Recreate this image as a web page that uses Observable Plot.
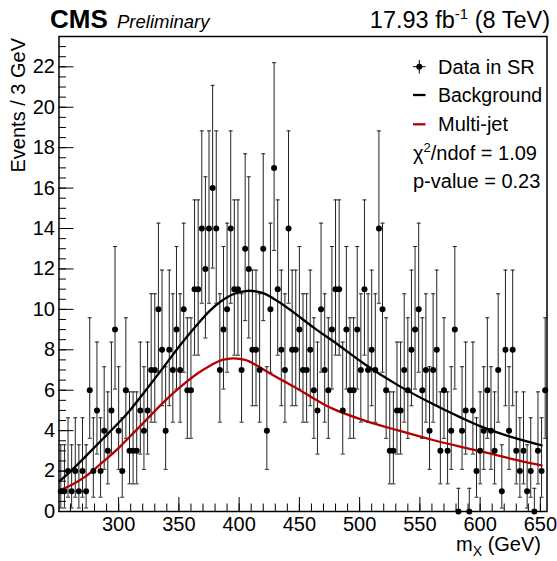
<!DOCTYPE html>
<html><head><meta charset="utf-8">
<script src="https://cdn.jsdelivr.net/npm/d3@7"></script>
<script src="https://cdn.jsdelivr.net/npm/@observablehq/plot@0.6"></script>
<style>
html,body{margin:0;padding:0;background:#fff;}
#chart{width:557px;height:561px;}
</style></head><body><div id="chart"></div>
<script>
// ---- data ----
const binStart = 250.5;   // GeV, lower edge of first bin
const binWidth = 3;       // GeV
const counts = [
  1,1,2,1,2,1,2,1,6,2,
  5,2,4,3,5,9,4,2,6,3,
  3,3,5,4,5,7,7,10,8,4,
  8,7,9,7,10,6,6,11,11,14,
  12,14,16,14,7,9,10,14,11,11,
  7,13,12,8,8,7,13,4,10,17,
  11,8,7,14,8,8,9,7,7,8,
  6,5,10,7,6,9,11,11,5,9,
  6,6,9,7,11,7,8,7,14,10,
  6,3,3,5,5,7,6,8,9,10,
  6,7,4,7,8,3,6,3,4,9,
  0,4,5,0,5,2,3,4,6,4,
  3,7,1,8,4,8,3,2,3,1,
  2,0,3,2,6
];
// Poisson (Garwood 68%) interval half-widths, indexed by count
const errLow  = [0,0.827,1.292,1.633,1.914,2.159,2.379,2.580,2.768,2.943,3.108,3.265,3.415,3.558,3.696,3.829,3.958,4.083];
const errHigh = [1.148,2.299,2.637,2.918,3.162,3.382,3.583,3.770,3.944,4.110,4.266,4.416,4.559,4.697,4.830,4.958,5.083,5.204];

// Background fit (black)
const bgX = [251, 262, 273, 287, 301, 310, 320, 338, 352, 366, 376, 385, 395, 407, 420, 432, 443, 463, 481, 504, 532, 560, 585, 601, 625, 651];
const bgY = [1.5, 2.1, 2.75, 3.6, 4.45, 5.05, 5.8, 7.2, 8.3, 9.3, 9.95, 10.4, 10.75, 10.92, 10.8, 10.4, 9.95, 9.05, 8.3, 7.3, 6.24, 5.34, 4.62, 4.2, 3.7, 3.27];
// Multi-jet component (red)
const mjX = [251, 262, 273, 287, 301, 310, 320, 338, 352, 366, 377, 386, 395, 405, 414, 425, 437, 449, 463, 477, 504, 532, 560, 585, 601, 625, 651];
const mjY = [1.05, 1.35, 1.75, 2.45, 3.2, 3.75, 4.35, 5.45, 6.2, 6.85, 7.25, 7.5, 7.58, 7.5, 7.25, 6.85, 6.45, 6.05, 5.55, 5.1, 4.5, 4.01, 3.55, 3.19, 2.97, 2.62, 2.28];

const xMajor = [300, 350, 400, 450, 500, 550, 600, 650];
const xMinor = [260,270,280,290,300,310,320,330,340,350,360,370,380,390,400,410,420,430,440,450,460,470,480,490,500,510,520,530,540,550,560,570,580,590,600,610,620,630,640,650];
const yMajor = [0, 2, 4, 6, 8, 10, 12, 14, 16, 18, 20, 22];
const yMinor = d3.range(0, 23.5, 0.5);

// ---- build ----
const FONT = "'Liberation Sans', Arial, Helvetica, sans-serif";
const RED = "#b40000";
const points = counts.map((n, i) => ({
  x: binStart + binWidth * (i + 0.5), n,
  lo: n - errLow[n], hi: n + errHigh[n]
}));
const bg = bgX.map((x, i) => ({x, y: bgY[i]}));
const mj = mjX.map((x, i) => ({x, y: mjY[i]}));
const cap = {draw(ctx, size) { const r = Math.sqrt(size / Math.PI); ctx.moveTo(-r, 0); ctx.lineTo(r, 0); }};

const plot = Plot.plot({
  width: 557, height: 561,
  marginLeft: 58.5, marginRight: 10.5, marginTop: 36, marginBottom: 50,
  x: {domain: [250.5, 655.5]},
  y: {domain: [0, 23.5]},
  style: {fontFamily: FONT, background: "white", color: "black", overflow: "visible"},
  marks: [
    Plot.ruleX(points, {x: "x", y1: "lo", y2: "hi", stroke: "#222", strokeWidth: 1}),
    Plot.dot(points, {x: "x", y: "hi", symbol: cap, r: 2, stroke: "#222", strokeWidth: 1, fill: "none"}),
    Plot.dot(points.filter(d => d.n > 0), {x: "x", y: "lo", symbol: cap, r: 2, stroke: "#222", strokeWidth: 1, fill: "none"}),
    Plot.line(mj, {x: "x", y: "y", stroke: RED, strokeWidth: 2.3, curve: "catmull-rom"}),
    Plot.line(bg, {x: "x", y: "y", stroke: "black", strokeWidth: 2.3, curve: "catmull-rom"}),
    Plot.dot(points, {x: "x", y: "n", r: 3, fill: "black", stroke: "none"}),
    Plot.frame({stroke: "black", strokeWidth: 1.5}),
    Plot.axisX({ticks: xMinor, tickSize: 7.5, dy: -7.5, tickFormat: () => "", label: null, strokeWidth: 1}),
    Plot.axisX({ticks: xMajor, tickSize: 14, dy: -14, tickFormat: () => "", label: null, strokeWidth: 1}),
    Plot.axisX({ticks: xMajor, tickSize: 0, tickPadding: 5.5, tickFormat: d => String(d), label: null, fontSize: 20}),
    Plot.axisY({ticks: yMinor, tickSize: 7.5, dx: 7.5, tickFormat: () => "", label: null, strokeWidth: 1}),
    Plot.axisY({ticks: yMajor, tickSize: 15, dx: 15, tickFormat: () => "", label: null, strokeWidth: 1}),
    Plot.axisY({ticks: yMajor, tickSize: 0, tickPadding: 4, tickFormat: d => String(d), label: null, fontSize: 20})
  ]
});
document.getElementById("chart").appendChild(plot);

// ---- annotations (titles, legend) ----
const svg = d3.select(plot);
const g = svg.append("g").attr("font-family", FONT).attr("fill", "black").attr("text-anchor", "start");
g.append("text").attr("x", 50).attr("y", 28).attr("font-size", 26).attr("font-weight", "bold").text("CMS");
g.append("text").attr("x", 117).attr("y", 28).attr("font-size", 18.5).attr("font-style", "italic").text("Preliminary");
const lumi = g.append("text").attr("x", 550).attr("y", 28).attr("text-anchor", "end").attr("font-size", 23.5);
lumi.append("tspan").text("17.93 fb");
lumi.append("tspan").attr("dy", -9).attr("font-size", 15).text("-1");
lumi.append("tspan").attr("dy", 9).text(" (8 TeV)");

g.append("text").attr("transform", "translate(25,38) rotate(-90)").attr("text-anchor", "end").attr("font-size", 20).text("Events / 3 GeV");
const xt = g.append("text").attr("x", 541).attr("y", 551).attr("text-anchor", "end").attr("font-size", 20);
xt.append("tspan").text("m");
xt.append("tspan").attr("dy", 5).attr("font-size", 14).text("X");
xt.append("tspan").attr("dy", -5).text(" (GeV)");

// legend
const lg = g.append("g");
lg.append("line").attr("x1", 413).attr("x2", 425.5).attr("y1", 66.7).attr("y2", 66.7).attr("stroke", "black").attr("stroke-width", 1);
lg.append("line").attr("x1", 419.3).attr("x2", 419.3).attr("y1", 60).attr("y2", 73.5).attr("stroke", "black").attr("stroke-width", 1);
lg.append("circle").attr("cx", 419.3).attr("cy", 66.7).attr("r", 3).attr("fill", "black");
lg.append("text").attr("x", 438).attr("y", 73.5).attr("font-size", 20).text("Data in SR");
lg.append("line").attr("x1", 413).attr("x2", 425.5).attr("y1", 95).attr("y2", 95).attr("stroke", "black").attr("stroke-width", 2.3);
lg.append("text").attr("x", 438).attr("y", 102).attr("font-size", 19.5).text("Background");
lg.append("line").attr("x1", 413).attr("x2", 425.5).attr("y1", 124.3).attr("y2", 124.3).attr("stroke", RED).attr("stroke-width", 2.3);
lg.append("text").attr("x", 438).attr("y", 130.5).attr("font-size", 20).text("Multi-jet");
const chi = lg.append("text").attr("x", 413).attr("y", 160).attr("font-size", 20);
chi.append("tspan").text("χ");
chi.append("tspan").attr("dy", -8).attr("font-size", 13).text("2");
chi.append("tspan").attr("dy", 8).text("/ndof = 1.09");
lg.append("text").attr("x", 413).attr("y", 187.5).attr("font-size", 20).text("p-value = 0.23");
</script>
</body></html>
